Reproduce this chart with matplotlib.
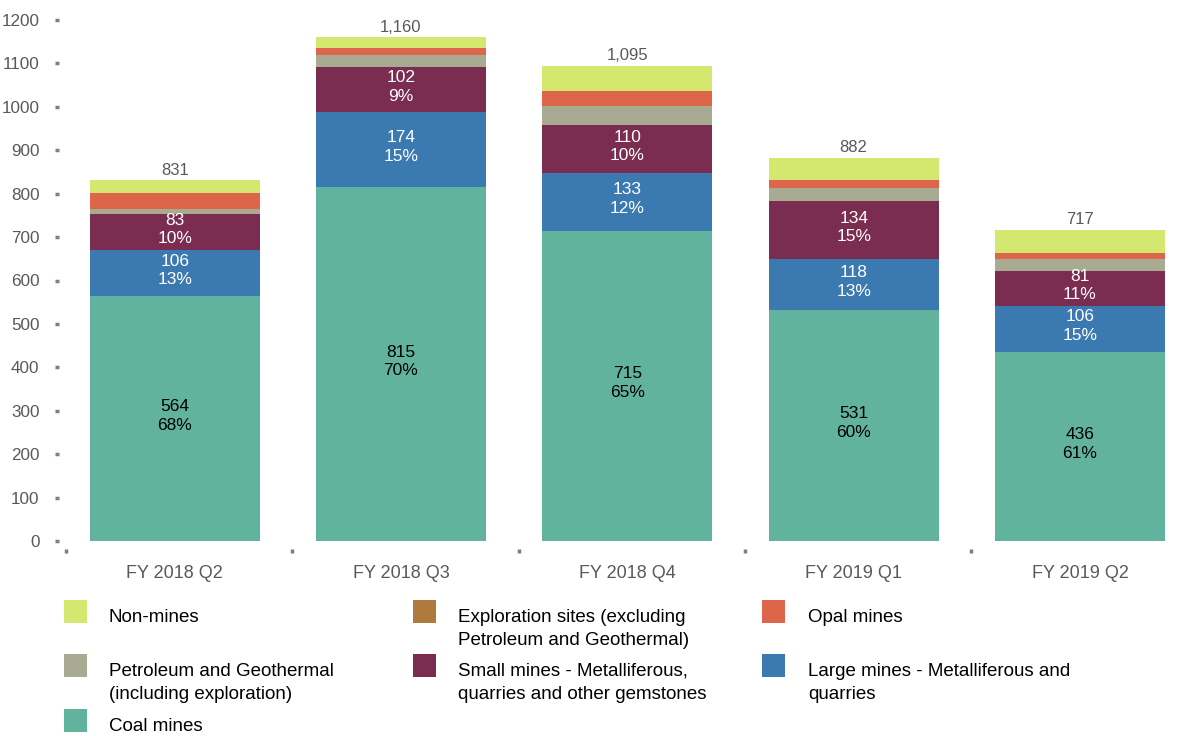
import matplotlib
matplotlib.use("Agg")
import matplotlib.pyplot as plt
import numpy as np
from matplotlib.patches import Rectangle

plt.rcParams['font.family'] = ['Liberation Sans', 'DejaVu Sans']

# data
quarters = ["FY 2018 Q2", "FY 2018 Q3", "FY 2018 Q4", "FY 2019 Q1", "FY 2019 Q2"]
coal = [564, 815, 715, 531, 436]
large = [106, 174, 133, 118, 106]
small = [83, 102, 110, 134, 81]
petroleum = [12, 29, 45, 30, 27]
opal = [36, 15, 34, 19, 14]
exploration = [0, 0, 0, 0, 0]
non_mines = [30, 25, 58, 50, 53]
totals = [831, 1160, 1095, 882, 717]

series = [
    ("Coal mines", coal, "#62B39D"),
    ("Large mines - Metalliferous and\nquarries", large, "#3B7AB0"),
    ("Small mines - Metalliferous,\nquarries and other gemstones", small, "#7A2D50"),
    ("Petroleum and Geothermal\n(including exploration)", petroleum, "#A8AA92"),
    ("Opal mines", opal, "#DD654A"),
    ("Exploration sites (excluding\nPetroleum and Geothermal)", exploration, "#B07A3E"),
    ("Non-mines", non_mines, "#D4E86F"),
]
label_colors = {series[0][0]: "black", series[1][0]: "white", series[2][0]: "white"}

W, H = 1190, 736
fig = plt.figure(figsize=(W / 100, H / 100), dpi=100)
ax = fig.add_axes([66 / W, (H - 541) / H, 1 - 66 / W, 521 / H])

grey = "#595959"
x = np.arange(len(quarters))
bottom = np.zeros(len(quarters))
for name, vals, col in series:
    vals = np.array(vals, dtype=float)
    ax.bar(x, vals, width=0.75, bottom=bottom, color=col, linewidth=0)
    if name in label_colors:
        for i, v in enumerate(vals):
            pct = round(100 * v / totals[i])
            ax.text(x[i], bottom[i] + v / 2 + 6, f"{int(v)}\n{pct}%", ha="center",
                    va="center", fontsize=12.5, color=label_colors[name],
                    linespacing=1.3)
    bottom += vals

for i, t in enumerate(totals):
    ax.text(x[i], bottom[i] + 13, f"{t:,}", ha="center", va="baseline",
            fontsize=12, color=grey)

ax.set_xlim(-0.477, 4.486)
ax.set_ylim(0, 1200)
ax.set_yticks(np.arange(0, 1201, 100))
ax.set_xticks(x)
ax.set_xticklabels(quarters)
ax.set_xticks(x - 0.48, minor=True)
for s in ax.spines.values():
    s.set_visible(False)
ax.spines['left'].set_position(('outward', 5))
ax.spines['bottom'].set_position(('outward', 6))
ax.tick_params(axis='y', length=3, width=2.5, color="#7f7f7f", labelcolor=grey,
               labelsize=12.3, pad=11)
ax.tick_params(axis='x', which='major', length=0, labelcolor=grey, labelsize=13, pad=11)
ax.tick_params(axis='x', which='minor', length=3, width=2.5, color="#7f7f7f")

# legend
legend_order = [6, 5, 4, 3, 2, 1, 0]
col_sq = [64, 413, 762]
col_tx = [109, 458, 808]
row_sq = [600, 654, 709]
for k, idx in enumerate(legend_order):
    name, _, col = series[idx]
    r, c = divmod(k, 3)
    sx, sy = col_sq[c], row_sq[r]
    fig.patches.append(Rectangle((sx / W, 1 - (sy + 23) / H), 23 / W, 23 / H,
                                 transform=fig.transFigure, color=col, linewidth=0))
    for j, line in enumerate(name.split("\n")):
        fig.text(col_tx[c] / W, 1 - (sy + 22 + 23 * j) / H, line, ha="left",
                 va="baseline", fontsize=13.5, color="black")

fig.savefig("out.png", dpi=100)
